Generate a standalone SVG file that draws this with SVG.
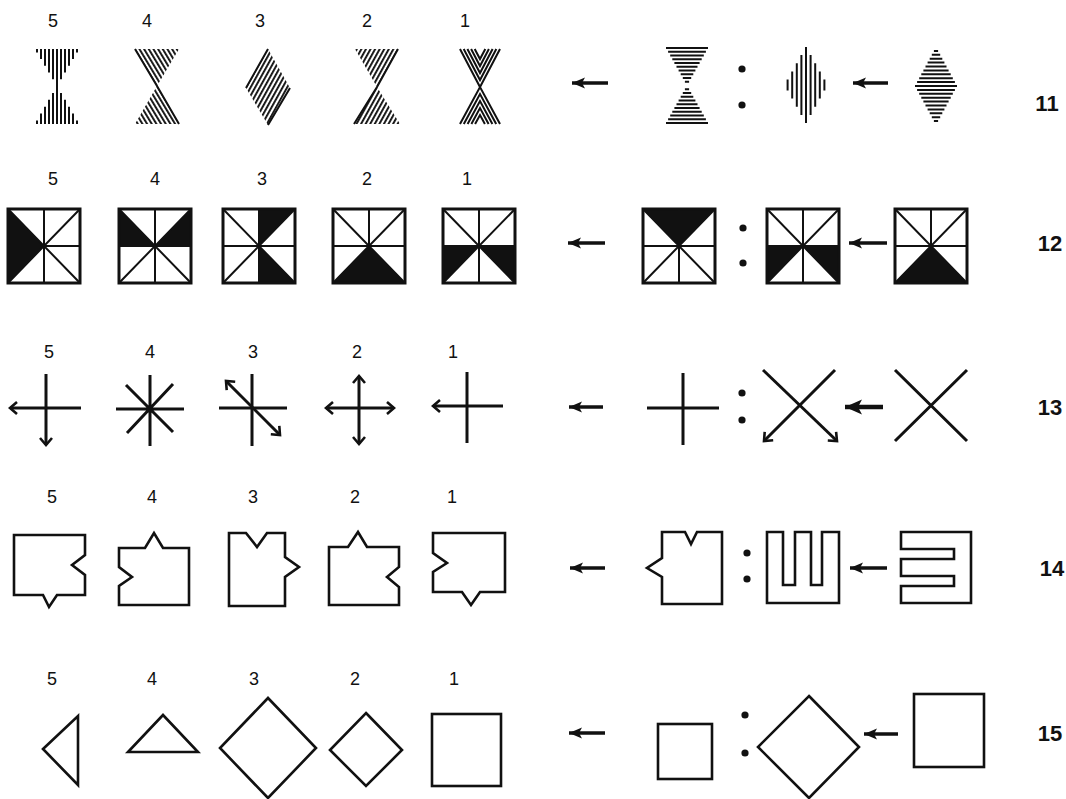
<svg xmlns="http://www.w3.org/2000/svg" width="1066" height="799" viewBox="0 0 1066 799">
<style>
.lab{font-family:"Liberation Sans",Arial,sans-serif;font-size:18px;fill:#111;text-anchor:middle}
.num{font-family:"Liberation Sans",Arial,sans-serif;font-size:22px;font-weight:bold;fill:#111;text-anchor:middle}
.ln{stroke:#111;stroke-width:2;fill:none}
.ol{stroke:#111;stroke-width:2.6;fill:none;stroke-linejoin:miter}
.fx{stroke:#111;stroke-width:3;fill:none}
.arr{stroke:#111;stroke-width:3.5;fill:none;marker-end:url(#ah)}
.dot{fill:#111}
.blk{fill:#111}
</style>
<defs>
<marker id="ah" markerUnits="userSpaceOnUse" markerWidth="20" markerHeight="16" viewBox="0 -8 20 16" refX="13" refY="0" orient="auto"><path d="M0,-5.5 L13,0 L0,5.5 L3,0 Z" fill="#111"/></marker>
<marker id="ahB" markerUnits="userSpaceOnUse" markerWidth="24" markerHeight="20" viewBox="0 -10 24 20" refX="17" refY="0" orient="auto"><path d="M0,-7.5 L17,0 L0,7.5 L4,0 Z" fill="#111"/></marker>
<marker id="oa" markerUnits="userSpaceOnUse" markerWidth="20" markerHeight="20" viewBox="-10 -10 20 20" refX="0" refY="0" orient="auto-start-reverse" overflow="visible"><path d="M-7,-6 L0,0 L-7,6" fill="none" stroke="#111" stroke-width="2.6"/></marker>
<pattern id="p4" patternUnits="userSpaceOnUse" width="4" height="4" patternTransform="rotate(-31 157 86)"><rect width="1.9" height="4" fill="#111"/></pattern>
<pattern id="p3" patternUnits="userSpaceOnUse" width="4" height="4" patternTransform="rotate(29 268 87)"><rect width="1.9" height="4" fill="#111"/></pattern>
<pattern id="p2" patternUnits="userSpaceOnUse" width="4" height="4" patternTransform="rotate(29 377 87)"><rect width="1.9" height="4" fill="#111"/></pattern>
<g id="sq">
<rect x="0" y="0" width="72" height="74" fill="none" stroke="#111" stroke-width="3"/>
<path d="M36,0V74M0,37H72M0,0L72,74M72,0L0,74" stroke="#111" stroke-width="2" fill="none"/>
</g>
</defs>
<rect width="1066" height="799" fill="#fff"/>

<g id="labels">
<text class="lab" x="53" y="27">5</text><text class="lab" x="147" y="27">4</text><text class="lab" x="260" y="27">3</text><text class="lab" x="367" y="27">2</text><text class="lab" x="465" y="27">1</text>
<text class="lab" x="53" y="185">5</text><text class="lab" x="155" y="185">4</text><text class="lab" x="262" y="185">3</text><text class="lab" x="367" y="185">2</text><text class="lab" x="467" y="185">1</text>
<text class="lab" x="49" y="358">5</text><text class="lab" x="150" y="358">4</text><text class="lab" x="253" y="358">3</text><text class="lab" x="357" y="358">2</text><text class="lab" x="453" y="358">1</text>
<text class="lab" x="52" y="503">5</text><text class="lab" x="152" y="503">4</text><text class="lab" x="253" y="503">3</text><text class="lab" x="355" y="503">2</text><text class="lab" x="452" y="503">1</text>
<text class="lab" x="52" y="685">5</text><text class="lab" x="152" y="685">4</text><text class="lab" x="254" y="685">3</text><text class="lab" x="355" y="685">2</text><text class="lab" x="454" y="685">1</text>
<text class="num" x="1047" y="111">11</text>
<text class="num" x="1050" y="251">12</text>
<text class="num" x="1050" y="415">13</text>
<text class="num" x="1052" y="576">14</text>
<text class="num" x="1050" y="741">15</text>
</g>

<g id="connectors">
<line class="arr" x1="608" y1="83" x2="572" y2="83"/>
<line class="arr" x1="888" y1="83" x2="853" y2="83"/>
<line class="arr" x1="605" y1="243" x2="568" y2="243"/>
<line class="arr" x1="887" y1="243" x2="849" y2="243"/>
<line class="arr" x1="603" y1="407" x2="569" y2="407"/>
<line x1="883" y1="407" x2="845" y2="407" stroke="#111" stroke-width="4.5" marker-end="url(#ahB)"/>
<line class="arr" x1="605" y1="568" x2="570" y2="568"/>
<line class="arr" x1="887" y1="568" x2="850" y2="568"/>
<line class="arr" x1="605" y1="733" x2="569" y2="733"/>
<line class="arr" x1="898" y1="734" x2="864" y2="734"/>
<circle class="dot" cx="742" cy="69" r="3.6"/><circle class="dot" cx="742" cy="105" r="3.6"/>
<circle class="dot" cx="743" cy="228" r="3.6"/><circle class="dot" cx="743" cy="263" r="3.6"/>
<circle class="dot" cx="742" cy="393" r="3.6"/><circle class="dot" cx="742" cy="420" r="3.6"/>
<circle class="dot" cx="747" cy="553" r="3.6"/><circle class="dot" cx="747" cy="579" r="3.6"/>
<circle class="dot" cx="745" cy="715" r="3.6"/><circle class="dot" cx="745" cy="753" r="3.6"/>
</g>

<g id="r11-5">
<path class="ln" stroke-width="2.3" d="M57,49V124M53,49V79.3M61,49V79.3M49,49V72.5M65,49V72.5M45,49V65.8M69,49V65.8M41,49V59.1M73,49V59.1M37,49V52.4M77,49V52.4M53,92.9V124M61,92.9V124M49,99.8V124M65,99.8V124M45,106.7V124M69,106.7V124M41,113.6V124M73,113.6V124M37,120.5V124M77,120.5V124"/>
</g>
<g id="r11-4">
<polygon points="135,49 179,49 157,86 179,124 135,124 157,86" fill="url(#p4)"/>
<path class="ln" d="M135,49L157,86L179,124"/>
</g>
<g id="r11-3">
<polygon points="268,49 290,88 268,125 246,88" fill="url(#p3)"/>
<path class="ln" d="M246,88L268,49M290,88L268,125"/>
</g>
<g id="r11-2">
<polygon points="355,49 398,49 377,87 400,124 354,124 377,87" fill="url(#p2)"/>
<path class="ln" d="M398,49L377,87L354,124"/>
</g>
<g id="r11-1">
<path class="ln" d="M460,49L480,87L500,49M463.7,49L480,80L496.3,49M467.4,49L480,73L492.6,49M471.1,49L480,66L488.9,49M474.7,49L480,59L485.3,49M460,124L480,87L500,124M463.8,124L480,94L496.2,124M467.6,124L480,101L492.4,124M471.4,124L480,108L488.6,124M475.1,124L480,115L484.9,124"/>
</g>
<g id="r11-a">
<path class="ln" d="M666,48H708M668.1,51.75H705.9M670.2,55.5H703.8M672.3,59.25H701.7M674.4,63H699.6M676.5,66.75H697.5M678.6,70.5H695.4M680.7,74.25H693.3M682.8,78H691.2M684.9,81.75H689.1M684.9,89.25H689.1M682.8,93H691.2M680.7,96.75H693.3M678.6,100.5H695.4M676.5,104.25H697.5M674.4,108H699.6M672.3,111.75H701.7M670.2,115.5H703.8M668.1,119.25H705.9M666,123H708"/>
</g>
<g id="r11-b">
<path class="ln" d="M806,47V123M801.4,55.1V114.9M810.6,55.1V114.9M796.8,63.3V106.7M815.2,63.3V106.7M792.2,71.4V98.6M819.8,71.4V98.6M787.6,79.5V90.5M824.4,79.5V90.5"/>
</g>
<g id="r11-c">
<path class="ln" d="M915,86H957M917.1,82.1H954.9M917.1,89.9H954.9M919.2,78.2H952.8M919.2,93.8H952.8M921.3,74.3H950.7M921.3,97.7H950.7M923.4,70.4H948.6M923.4,101.6H948.6M925.5,66.5H946.5M925.5,105.5H946.5M927.6,62.6H944.4M927.6,109.4H944.4M929.7,58.7H942.3M929.7,113.3H942.3M931.8,54.8H940.2M931.8,117.2H940.2M933.9,50.9H938.1M933.9,121.1H938.1"/>
</g>

<g id="r12-5" transform="translate(8,209)"><polygon class="blk" points="0,0 36,37 0,74"/><use href="#sq"/></g>
<g id="r12-4" transform="translate(119,209)"><polygon class="blk" points="0,0 36,37 0,37"/><polygon class="blk" points="72,0 36,37 72,37"/><use href="#sq"/></g>
<g id="r12-3" transform="translate(223,209)"><polygon class="blk" points="36,0 72,0 36,37"/><polygon class="blk" points="36,37 72,74 36,74"/><use href="#sq"/></g>
<g id="r12-2" transform="translate(333,209)"><polygon class="blk" points="0,74 36,37 72,74"/><use href="#sq"/></g>
<g id="r12-1" transform="translate(443,209)"><polygon class="blk" points="0,37 36,37 0,74"/><polygon class="blk" points="72,37 36,37 72,74"/><use href="#sq"/></g>
<g id="r12-a" transform="translate(643,209)"><polygon class="blk" points="0,0 72,0 36,37"/><use href="#sq"/></g>
<g id="r12-b" transform="translate(767,209)"><polygon class="blk" points="0,37 36,37 0,74"/><polygon class="blk" points="72,37 36,37 72,74"/><use href="#sq"/></g>
<g id="r12-c" transform="translate(895,209)"><polygon class="blk" points="0,74 36,37 72,74"/><use href="#sq"/></g>

<g id="r13-5"><line class="fx" x1="46" y1="374" x2="46" y2="445" marker-end="url(#oa)"/><line class="fx" x1="81" y1="408" x2="10" y2="408" marker-end="url(#oa)"/></g>
<g id="r13-4"><path class="fx" d="M150,375V446M116,409H184M126,385L173,432M173,384L127,433"/></g>
<g id="r13-3"><path class="fx" d="M252,374V446M219,408H287"/><line class="fx" x1="226" y1="381" x2="280" y2="435" marker-start="url(#oa)" marker-end="url(#oa)"/></g>
<g id="r13-2"><line class="fx" x1="359" y1="376" x2="359" y2="444" marker-start="url(#oa)" marker-end="url(#oa)"/><line class="fx" x1="326" y1="408" x2="394" y2="408" marker-start="url(#oa)" marker-end="url(#oa)"/></g>
<g id="r13-1"><path class="fx" d="M467,372V443"/><line class="fx" x1="503" y1="406" x2="433" y2="406" marker-end="url(#oa)"/></g>
<g id="r13-a"><path class="fx" d="M647,408H719M683,373V445"/></g>
<g id="r13-b"><line class="fx" x1="763" y1="370" x2="837" y2="441" marker-end="url(#oa)"/><line class="fx" x1="835" y1="370" x2="764" y2="441" marker-end="url(#oa)"/></g>
<g id="r13-c"><path class="fx" d="M895,370L967,441M967,370L895,441"/></g>

<g id="r14-5"><path class="ol" d="M14,535H85V555L72,565L85,575V595H57L49,607L43,595H14Z"/></g>
<g id="r14-4"><path class="ol" d="M119,548H145L154,533L163,548H189V605H119V586L132,577L119,567Z"/></g>
<g id="r14-3"><path class="ol" d="M229,533H246L257,547L267,533H285V557L299,567L285,577V606H229Z"/></g>
<g id="r14-2"><path class="ol" d="M329,547H348L358,532L367,547H399V567L387,577L399,587V605H329Z"/></g>
<g id="r14-1"><path class="ol" d="M433,533H505V592H480L471,605L462,592H433V572L447,563L433,553Z"/></g>
<g id="r14-a"><path class="ol" d="M662,532H685L691,544L697,532H722V604H662V577L647,568L662,558Z"/></g>
<g id="r14-b"><path class="ol" d="M767,532H783V585H795V532H811V585H822V532H839V603H767Z"/></g>
<g id="r14-c"><path class="ol" d="M901,532H971V603H901V586H954V576H901V559H954V549H901Z"/></g>

<g id="r15-5"><path class="ol" d="M43,749L78,716V785Z"/></g>
<g id="r15-4"><path class="ol" d="M163,715L198,752H128Z"/></g>
<g id="r15-3"><path class="ol" d="M268,698L316,748L268,798L220,748Z"/></g>
<g id="r15-2"><path class="ol" d="M366,713L402,750L366,786L330,750Z"/></g>
<g id="r15-1"><rect class="ol" x="432" y="714" width="69" height="72"/></g>
<g id="r15-a"><rect class="ol" x="658" y="724" width="54" height="55"/></g>
<g id="r15-b"><path class="ol" d="M809,696L859,747L809,798L758,747Z"/></g>
<g id="r15-c"><rect class="ol" x="914" y="694" width="70" height="73"/></g>
</svg>
